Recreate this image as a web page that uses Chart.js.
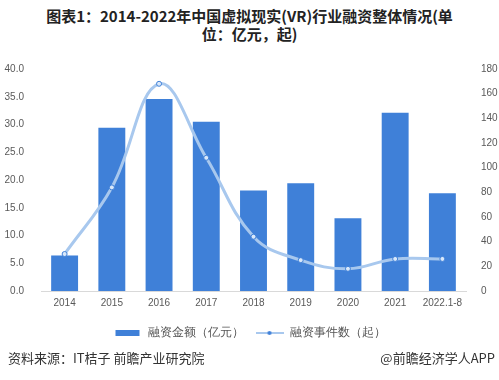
<!DOCTYPE html>
<html>
<head>
<meta charset="utf-8">
<script src="https://cdn.jsdelivr.net/npm/chart.js@4"></script>
<style>
  body { margin: 0; background: #fff; font-family: "Noto Sans CJK SC", "Noto Sans", sans-serif; }
  #wrap { position: relative; width: 499px; height: 380px; overflow: hidden; }
  #title { position: absolute; top: 7px; left: 0; width: 499px; text-align: center; font-weight: bold; font-size: 15px; line-height: 18px; color: #222; }
  #chartBox { position: absolute; left: 0; top: 52px; width: 499px; height: 297px; }
  #src { position: absolute; left: 8px; top: 348px; font-size: 13px; color: #333; }
  #app { position: absolute; right: 4px; top: 348px; font-size: 13px; color: #333; }
</style>
</head>
<body>
<div id="wrap">
  <div id="title">图表1：2014-2022年中国虚拟现实(VR)行业融资整体情况(单<br>位：亿元，起)</div>
  <div id="chartBox"><canvas id="chart"></canvas></div>
  <div id="src">资料来源：IT桔子 前瞻产业研究院</div>
  <div id="app">@前瞻经济学人APP</div>
</div>
<script>
"use strict";
const years = ['2014', '2015', '2016', '2017', '2018', '2019', '2020', '2021', '2022.1-8'];
const amount = [6.4, 29.4, 34.6, 30.5, 18.1, 19.4, 13.1, 32.1, 17.6];
const events = [30, 84, 168, 108, 44, 25, 18, 26, 26];

const barColor = '#3f80d8';
const lineColor = '#a8c8ee';

// small legend icons
function makeIcon(drawFn) {
  const c = document.createElement('canvas');
  c.width = 28; c.height = 8;
  drawFn(c.getContext('2d'));
  return c;
}
const barIcon = makeIcon(ctx => {
  ctx.fillStyle = barColor;
  ctx.fillRect(2, 1, 24, 6);
});
const lineIcon = makeIcon(ctx => {
  ctx.strokeStyle = lineColor;
  ctx.lineWidth = 2;
  ctx.beginPath(); ctx.moveTo(0, 4); ctx.lineTo(28, 4); ctx.stroke();
  ctx.fillStyle = '#3f80d8';
  ctx.beginPath(); ctx.arc(14, 4, 2, 0, Math.PI * 2); ctx.fill();
});

const ctx = document.getElementById('chart').getContext('2d');
new Chart(ctx, {
  data: {
    labels: years,
    datasets: [{
      type: 'line',
      label: '融资事件数（起）',
      data: events,
      yAxisID: 'y1',
      borderColor: lineColor,
      borderWidth: 3,
      tension: 0.4,
      pointRadius: 2.5,
      pointBackgroundColor: '#d9e8fa',
      pointBorderColor: '#3f80d8',
      pointBorderWidth: 1,
      pointStyle: 'circle',
      order: 0
    }, {
      type: 'bar',
      label: '融资金额（亿元）',
      data: amount,
      yAxisID: 'y',
      backgroundColor: barColor,
      barPercentage: 0.57,
      categoryPercentage: 1,
      order: 1
    }]
  },
  options: {
    responsive: true,
    maintainAspectRatio: false,
    animation: false,
    layout: { padding: { left: 0, right: 0, top: 17, bottom: 0 } },
    plugins: {
      legend: {
        position: 'bottom',
        labels: {
          usePointStyle: true,
          pointStyleWidth: 28,
          color: '#555',
          font: { size: 12 },
          padding: 12,
          generateLabels(chart) {
            return [
              { text: '融资金额（亿元）', pointStyle: barIcon, datasetIndex: 1, fontColor: '#555' },
              { text: '融资事件数（起）', pointStyle: lineIcon, datasetIndex: 0, fontColor: '#555' }
            ];
          }
        }
      },
      tooltip: { enabled: false }
    },
    scales: {
      x: {
        grid: { display: false, drawTicks: false },
        border: { color: '#d9d9d9' },
        ticks: { color: '#595959', font: { size: 10 }, padding: 6, maxRotation: 0, autoSkip: false }
      },
      y: {
        position: 'left',
        min: 0, max: 40,
        grid: { display: false },
        border: { display: false },
        afterFit: s => { s.width = 41; },
        ticks: { stepSize: 5, color: '#595959', font: { size: 10 }, padding: 9, callback: v => v.toFixed(1) }
      },
      y1: {
        position: 'right',
        min: 0, max: 180,
        grid: { display: false },
        border: { display: false },
        afterFit: s => { s.width = 33; },
        ticks: { stepSize: 20, color: '#595959', font: { size: 10 }, padding: 7 }
      }
    }
  }
});
</script>
</body>
</html>
